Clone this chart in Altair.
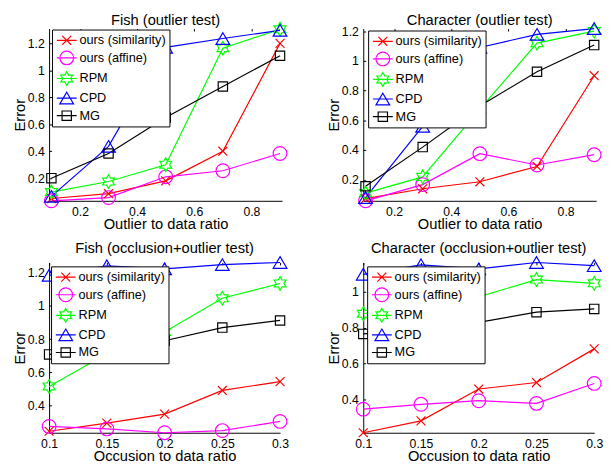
import math
import altair as alt
import pandas as pd

SERIES = ["ours (similarity)", "ours (affine)", "RPM", "CPD", "MG"]
COLORS = ["#ff0000", "#ff00ff", "#00ff00", "#0000ff", "#000000"]

# ---- Fish (outlier test)
fo_x = [0.1, 0.3, 0.5, 0.7, 0.9]
fo_sim = [0.049, 0.085, 0.18, 0.40, 1.20]
fo_aff = [0.032, 0.056, 0.21, 0.255, 0.383]
fo_rpm = [0.097, 0.175, 0.30, 1.164, 1.305]
fo_cpd = [0.065, 0.436, 1.171, 1.236, 1.297]
fo_mg = [0.20, 0.383, 0.65, 0.88, 1.108]

# ---- Character (outlier test)
co_x = [0.1, 0.3, 0.5, 0.7, 0.9]
co_sim = [0.074, 0.14, 0.187, 0.29, 0.90]
co_aff = [0.059, 0.168, 0.376, 0.30, 0.369]
co_rpm = [0.111, 0.22, 0.675, 1.119, 1.20]
co_cpd = [0.081, 0.56, 1.09, 1.178, 1.217]
co_mg = [0.157, 0.42, 0.697, 0.927, 1.106]

# ---- Fish (occlusion+outlier test)
fc_x = [0.1, 0.15, 0.2, 0.25, 0.3]
fc_sim = [0.247, 0.296, 0.35, 0.492, 0.545]
fc_aff = [0.276, 0.261, 0.238, 0.251, 0.306]
fc_rpm = [0.516, 0.712, 0.843, 1.045, 1.134]
fc_cpd = [1.183, 1.24, 1.222, 1.247, 1.26]
fc_mg = [0.708, 0.747, 0.79, 0.869, 0.912]

# ---- Character (occlusion+outlier test)
cc_x = [0.1, 0.15, 0.2, 0.25, 0.3]
cc_sim = [0.216, 0.282, 0.459, 0.495, 0.682]
cc_aff = [0.347, 0.374, 0.394, 0.379, 0.49]
cc_rpm = [0.877, 0.93, 0.971, 1.067, 1.046]
cc_cpd = [1.096, 1.149, 1.126, 1.162, 1.144]
cc_mg = [0.765, 0.79, 0.829, 0.886, 0.904]

# tick labels
x_ticks_outlier = [0.2, 0.4, 0.6, 0.8]
x_ticks_occl = [0.1, 0.15, 0.2, 0.25, 0.3]
y_ticks_fo = [0.2, 0.4, 0.6, 0.8, 1.0, 1.2]
y_ticks_co = [0.2, 0.4, 0.6, 0.8, 1.0, 1.2]
y_ticks_fc = [0.4, 0.6, 0.8, 1.0, 1.2]
y_ticks_cc = [0.4, 0.6, 0.8, 1.0]

FONT = "Liberation Sans"

# ---- marker paths (unit square -1..1)
def hexagram():
    pts = []
    for k in range(12):
        ang = math.radians(-90 + k * 30)
        r = 1.0 if k % 2 == 0 else 1.0 / math.sqrt(3)
        pts.append((r * math.cos(ang), r * math.sin(ang)))
    return "M" + "L".join(f"{x:.3f},{y:.3f}" for x, y in pts) + "Z"

MARKERS = [
    "M-0.65,-0.65L0.65,0.65M-0.65,0.65L0.65,-0.65",
    "M1,0A1,1,0,1,1,-1,0A1,1,0,1,1,1,0",
    hexagram(),
    "M0,-0.85L1,0.85L-1,0.85Z",
    "M-0.68,-0.68L0.68,-0.68L0.68,0.68L-0.68,0.68Z",
]
LINE = "M-1.45,0L1.45,0"

shape_expr = "'" + LINE + MARKERS[-1] + "'"
for name, mk in reversed(list(zip(SERIES[:-1], MARKERS[:-1]))):
    shape_expr = f"datum.value === '{name}' ? '{LINE}{mk}' : " + shape_expr


def panel(title, xs, vals, xdom, ydom, xticks, yticks, xtitle, w, h,
          toff, lx, ly):
    rows = []
    for name, v in zip(SERIES, vals):
        for x, y in zip(xs, v):
            rows.append({"x": x, "y": y, "s": name})
    df = pd.DataFrame(rows)
    legend = alt.Legend(
        title=None, orient="none", legendX=lx, legendY=ly,
        symbolType=alt.ExprRef(expr=shape_expr),
        symbolFillColor="transparent",
    )
    color = alt.Color("s:N", scale=alt.Scale(domain=SERIES, range=COLORS), legend=legend)
    xenc = alt.X("x:Q", scale=alt.Scale(domain=xdom, nice=False, zero=False),
                 axis=alt.Axis(values=xticks, format=".2~f", title=xtitle,
                               titleY=28, titleBaseline="alphabetic",
                               labelOverlap=False, labelFlush=False, labelPadding=5))
    yenc = alt.Y("y:Q", scale=alt.Scale(domain=ydom, nice=False, zero=False),
                 axis=alt.Axis(values=yticks, format=".2~f", title="Error",
                               labelOverlap=False, labelFlush=False, labelPadding=5,
                               tickCount=len(yticks)))
    base = alt.Chart(df)
    layers = [base.mark_line(strokeWidth=1.2).encode(
        x=xenc, y=yenc, color=color, order=alt.Order("x:Q"))]
    for name, mk in zip(SERIES, MARKERS):
        layers.append(
            base.transform_filter(alt.datum.s == name)
            .mark_point(filled=False, strokeWidth=1.2, size=196, opacity=1, shape=mk)
            .encode(x=xenc, y=yenc, color=color)
        )
    return alt.layer(*layers).properties(
        width=w, height=h,
        title=alt.TitleParams(title, fontSize=15, font=FONT, fontWeight="normal",
                              color="black", offset=toff, frame="group"),
    )


p1 = panel("Fish (outlier test)", fo_x, [fo_sim, fo_aff, fo_rpm, fo_cpd, fo_mg],
           [0.092, 0.907], [0.032, 1.31], x_ticks_outlier, y_ticks_fo,
           "Outlier to data ratio", 238, 176, -8, 3, 1)
p2 = panel("Character (outlier test)", co_x, [co_sim, co_aff, co_rpm, co_cpd, co_mg],
           [0.092, 0.907], [0.059, 1.217], x_ticks_outlier, y_ticks_co,
           "Outlier to data ratio", 238, 176, -8, 5, 2)
p3 = panel("Fish (occlusion+outlier test)", fc_x, [fc_sim, fc_aff, fc_rpm, fc_cpd, fc_mg],
           [0.1, 0.3], [0.238, 1.26], x_ticks_occl, y_ticks_fc,
           "Occusion to data ratio", 236, 174, -1.5, 2, 4)
p4 = panel("Character (occlusion+outlier test)", cc_x, [cc_sim, cc_aff, cc_rpm, cc_cpd, cc_mg],
           [0.1, 0.3], [0.216, 1.162], x_ticks_occl, y_ticks_cc,
           "Occusion to data ratio", 236, 174, -1.5, 4, 4)

chart = alt.concat(p1, p2, p3, p4, columns=2, spacing={"row": 10, "column": 38}).resolve_scale(
    color="independent", x="independent", y="independent"
).resolve_legend(color="independent").properties(
    padding={"left": 5, "top": 0, "right": 0, "bottom": 0}
).configure_view(stroke=None).configure_axis(
    domainColor="black", domainWidth=1, labelColor="black", titleColor="black",
    labelFont=FONT, titleFont=FONT, labelFontSize=12.5, titleFontSize=15,
    titleFontWeight="normal", grid=True, gridColor="black", gridWidth=1,
    gridDash=[2.5, 3000], ticks=False, labelOverlap=False,
).configure_axisY(titleX=-25, titleBaseline="alphabetic").configure_legend(
    labelFont=FONT, labelFontSize=13, labelColor="black", strokeColor="black",
    fillColor="white", padding=3, symbolOffset=4, labelOffset=5, rowPadding=1,
    symbolSize=196, symbolStrokeWidth=1.2,
)

chart.save("out.html", embed_options={"renderer": "svg", "actions": False})
